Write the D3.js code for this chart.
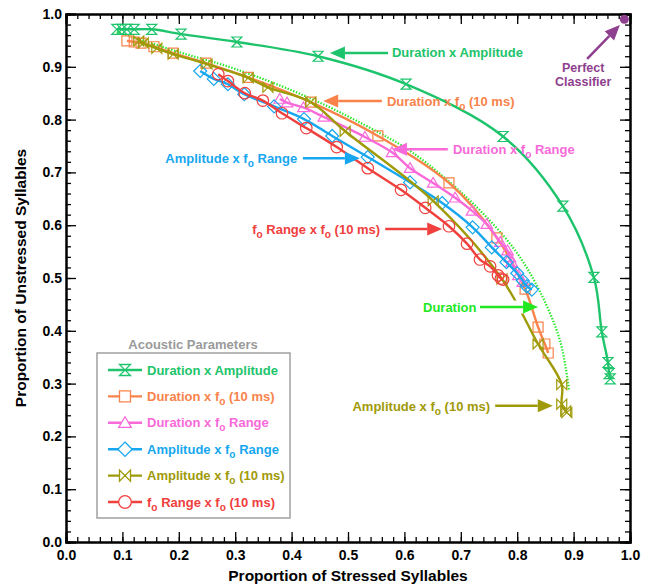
<!DOCTYPE html>
<html>
<head>
<meta charset="utf-8">
<script src="https://cdn.jsdelivr.net/npm/d3@7"></script>
<style>
  body { margin: 0; background: #fff; }
  svg { font-family: "Liberation Sans", Arial, sans-serif; font-weight: bold; }
</style>
</head>
<body>
<svg width="654" height="588"></svg>
<script>
// values: [stressed, unstressed]
var durAmp = [[0.090,0.971],[0.099,0.971],[0.108,0.971],[0.121,0.971],[0.152,0.971],[0.204,0.962],[0.303,0.947],[0.447,0.920],[0.603,0.867],[0.775,0.768],[0.881,0.636],[0.936,0.501],[0.950,0.398],[0.961,0.340],[0.963,0.319],[0.965,0.309]]
var durF0 = [[0.108,0.949],[0.121,0.947],[0.133,0.945],[0.156,0.938],[0.190,0.926],[0.248,0.907],[0.323,0.880],[0.434,0.833],[0.553,0.769],[0.679,0.680],[0.764,0.576],[0.814,0.479],[0.837,0.407],[0.849,0.375],[0.855,0.358]]
var durRange = [[0.379,0.839],[0.392,0.832],[0.421,0.823],[0.457,0.805],[0.530,0.767],[0.578,0.738],[0.610,0.708],[0.651,0.680],[0.690,0.652],[0.720,0.627],[0.746,0.602],[0.770,0.568],[0.783,0.552],[0.787,0.539],[0.790,0.530],[0.802,0.505],[0.810,0.492]]
var ampRange = [[0.238,0.892],[0.262,0.877],[0.287,0.867],[0.316,0.848],[0.369,0.825],[0.422,0.801],[0.472,0.769],[0.535,0.729],[0.610,0.681],[0.667,0.642],[0.721,0.596],[0.755,0.558],[0.781,0.530],[0.800,0.509],[0.810,0.495],[0.817,0.484],[0.826,0.478]]
var ampF0 = [[0.129,0.949],[0.137,0.945],[0.161,0.935],[0.190,0.924],[0.250,0.905],[0.323,0.879],[0.358,0.861],[0.434,0.833],[0.495,0.778],[0.651,0.646],[0.773,0.498],[0.837,0.375],[0.879,0.298],[0.879,0.261],[0.886,0.248],[0.888,0.245]]
var rangeF0 = [[0.270,0.886],[0.287,0.873],[0.317,0.850],[0.349,0.836],[0.383,0.812],[0.426,0.784],[0.480,0.748],[0.535,0.708],[0.594,0.667],[0.637,0.633],[0.679,0.598],[0.711,0.565],[0.734,0.535],[0.752,0.522],[0.766,0.505],[0.771,0.499],[0.775,0.497]]
var duration = [[0.090,0.966],[0.200,0.928],[0.300,0.896],[0.434,0.840],[0.557,0.774],[0.615,0.737],[0.711,0.652],[0.793,0.557],[0.840,0.475],[0.876,0.381],[0.892,0.287]]
var perfect = [0.99, 0.99]

var seriesNames = ["Duration x Amplitude", "Duration x f_o (10 ms)", "Duration x f_o Range", "Amplitude x f_o Range", "Amplitude x f_o (10 ms)", "f_o Range x f_o (10 ms)"]
var seriesData = [durAmp, durF0, durRange, ampRange, ampF0, rangeF0]
var seriesColors = ["#1dc46b", "#f9834a", "#f86ad9", "#17a7f0", "#9f9a08", "#f0403e"]
var seriesShapes = ["hourglass", "square", "triangle", "diamond", "bowtie", "circle"]

var majorTicks = d3.range(0, 1.0001, 0.1)
var minorTicks = d3.range(0, 1.0001, 0.02)

var svg = d3.select("svg")
var x = d3.scaleLinear().domain([0, 1]).range([66, 630])
var y = d3.scaleLinear().domain([0, 1]).range([542, 14])

// axes: ticks point inward on all four sides
function tickAxis(axisFn, scale, size, vals, labels) {
  return axisFn(scale).tickValues(vals).tickSize(size).tickPadding(4)
    .tickFormat(labels ? d3.format(".1f") : "")
}
var gx = svg.append("g").attr("transform", "translate(0,542)")
gx.call(tickAxis(d3.axisBottom, x, -5, minorTicks, false))
gx.append("g").call(tickAxis(d3.axisBottom, x, -10, majorTicks, true))
var gxt = svg.append("g").attr("transform", "translate(0,14)")
gxt.call(tickAxis(d3.axisTop, x, -5, minorTicks, false))
gxt.append("g").call(tickAxis(d3.axisTop, x, -10, majorTicks, false))
var gy = svg.append("g").attr("transform", "translate(66,0)")
gy.call(tickAxis(d3.axisLeft, y, -5, minorTicks, false))
gy.append("g").call(tickAxis(d3.axisLeft, y, -10, majorTicks, true))
var gyr = svg.append("g").attr("transform", "translate(630,0)")
gyr.call(tickAxis(d3.axisRight, y, -5, minorTicks, false))
gyr.append("g").call(tickAxis(d3.axisRight, y, -10, majorTicks, false))

svg.selectAll(".domain").attr("stroke", "#000").attr("stroke-width", 2)
svg.selectAll(".tick line").attr("stroke", "#000").attr("stroke-width", 1.3)
svg.selectAll(".tick text").attr("font-size", 14).attr("font-weight", "bold").attr("font-family", "Liberation Sans, Arial, sans-serif").attr("fill", "#000")
gx.selectAll(".tick text").attr("dy", "1.0em")

svg.append("text").attr("x", 348).attr("y", 581).attr("text-anchor", "middle")
  .attr("font-size", 15.5).text("Proportion of Stressed Syllables")
svg.append("text").attr("transform", "translate(26,278) rotate(-90)").attr("text-anchor", "middle")
  .attr("font-size", 15.5).text("Proportion of Unstressed Syllables")

// marker shapes
function markerPath(shape, s) {
  if (shape == "hourglass") return `M${-s},${-s}H${s}L${-s},${s}H${s}Z`
  if (shape == "bowtie") return `M${-s},${-s}V${s}L${s},${-s}V${s}Z`
  if (shape == "square") return `M${-s},${-s}H${s}V${s}H${-s}Z`
  if (shape == "triangle") return `M0,${-s * 1.1}L${s * 1.15},${s * 0.85}H${-s * 1.15}Z`
  if (shape == "diamond") return `M0,${-s * 1.3}L${s * 1.3},0L0,${s * 1.3}L${-s * 1.3},0Z`
  return d3.arc()({innerRadius: 0, outerRadius: s * 1.15, startAngle: 0, endAngle: 2 * Math.PI})
}

var lineGen = d3.line().x(d => x(d[0])).y(d => y(d[1])).curve(d3.curveCatmullRom)

// dotted "Duration" curve
svg.append("path").attr("d", lineGen(duration)).attr("fill", "none")
  .attr("stroke", "#22e822").attr("stroke-width", 2.2).attr("stroke-dasharray", "1.4,1.6")

var chart = svg.append("g")
seriesData.forEach(function(data, i) {
  var g = chart.append("g")
  g.append("path").attr("d", lineGen(data)).attr("fill", "none")
    .attr("stroke", seriesColors[i]).attr("stroke-width", 2.4)
  g.selectAll(".mk").data(data).enter().append("path")
    .attr("transform", d => `translate(${x(d[0])},${y(d[1])})`)
    .attr("d", markerPath(seriesShapes[i], 5))
    .attr("fill", "none").attr("stroke", seriesColors[i]).attr("stroke-width", 1.2)
})

svg.append("circle").attr("cx", x(perfect[0])).attr("cy", y(perfect[1])).attr("r", 4.5).attr("fill", "#8e3f8e")

// text with subscript o
function richText(sel, str) {
  var parts = str.split("_o")
  parts.forEach(function(p, i) {
    if (i > 0) {
      sel.append("tspan").attr("font-size", "0.78em").attr("dy", 4).text("o")
      sel.append("tspan").attr("dy", -4).text(p)
    } else {
      sel.append("tspan").text(p)
    }
  })
}

function arrow(x1, y1, x2, y2, color, halo) {
  var a = Math.atan2(y2 - y1, x2 - x1), L = 15, W = 6.5
  var bx = x2 - L * Math.cos(a), by = y2 - L * Math.sin(a)
  if (halo) {
    // the original breaks the curves where this arrow crosses them
    svg.append("line").attr("x1", x1 + 20).attr("y1", y1).attr("x2", bx).attr("y2", by)
      .attr("stroke", "#fff").attr("stroke-width", 13)
  }
  svg.append("line").attr("x1", x1).attr("y1", y1).attr("x2", bx).attr("y2", by)
    .attr("stroke", color).attr("stroke-width", 2.5)
  svg.append("path").attr("fill", color)
    .attr("d", `M${x2},${y2}L${bx - W * Math.sin(a)},${by + W * Math.cos(a)}L${bx + W * Math.sin(a)},${by - W * Math.cos(a)}Z`)
}

// annotations: label, colour, text x, text baseline y, anchor, arrow y, arrow tail x, arrow tip x (data units)
var notes = [
  ["Duration x Amplitude", "#1dc46b", 0.578, 0.919, "start", 0.926, 0.571, 0.468],
  ["Duration x f_o (10 ms)", "#f9834a", 0.569, 0.826, "start", 0.835, 0.560, 0.456],
  ["Duration x f_o Range", "#f86ad9", 0.686, 0.735, "start", 0.744, 0.677, 0.578],
  ["Amplitude x f_o Range", "#17a7f0", 0.410, 0.718, "end", 0.727, 0.420, 0.521],
  ["f_o Range x f_o (10 ms)", "#f0403e", 0.557, 0.583, "end", 0.593, 0.566, 0.667],
  ["Duration", "#22e822", 0.633, 0.436, "start", 0.445, 0.734, 0.837],
  ["Amplitude x f_o (10 ms)", "#9f9a08", 0.752, 0.248, "end", 0.258, 0.761, 0.863]
]
notes.forEach(function(n) {
  var t = svg.append("text").attr("x", x(n[2])).attr("y", y(n[3])).attr("text-anchor", n[4])
    .attr("font-size", 13).attr("fill", n[1])
  richText(t, n[0])
  arrow(x(n[6]), y(n[5]), x(n[7]), y(n[5]), n[1], n[0] == "Duration")
})

svg.append("text").attr("x", x(0.917)).attr("y", y(0.891)).attr("text-anchor", "middle")
  .attr("font-size", 12.5).attr("fill", "#8e3f8e").text("Perfect")
svg.append("text").attr("x", x(0.917)).attr("y", y(0.863)).attr("text-anchor", "middle")
  .attr("font-size", 12.5).attr("fill", "#8e3f8e").text("Classifier")
arrow(x(0.924), y(0.915), x(0.982), y(0.979), "#8e3f8e", false)

// legend
var lg = svg.append("g")
lg.append("rect").attr("x", 97).attr("y", 353).attr("width", 193).attr("height", 165)
  .attr("fill", "#fff").attr("stroke", "#a0a0a0").attr("stroke-width", 1.5)
lg.append("text").attr("x", 193).attr("y", 349).attr("text-anchor", "middle")
  .attr("font-size", 13).attr("fill", "#9a9a9a").text("Acoustic Parameters")
seriesNames.forEach(function(name, i) {
  var ly = 370 + i * 26.4
  lg.append("line").attr("x1", 108).attr("x2", 142).attr("y1", ly).attr("y2", ly)
    .attr("stroke", seriesColors[i]).attr("stroke-width", 2.4)
  lg.append("path").attr("transform", `translate(125,${ly})`).attr("d", markerPath(seriesShapes[i], 5.5))
    .attr("fill", "#fff").attr("stroke", seriesColors[i]).attr("stroke-width", 1.3)
  var t = lg.append("text").attr("x", 147).attr("y", ly + 4.5).attr("font-size", 13).attr("fill", seriesColors[i])
  richText(t, name)
})
</script>
</body>
</html>
